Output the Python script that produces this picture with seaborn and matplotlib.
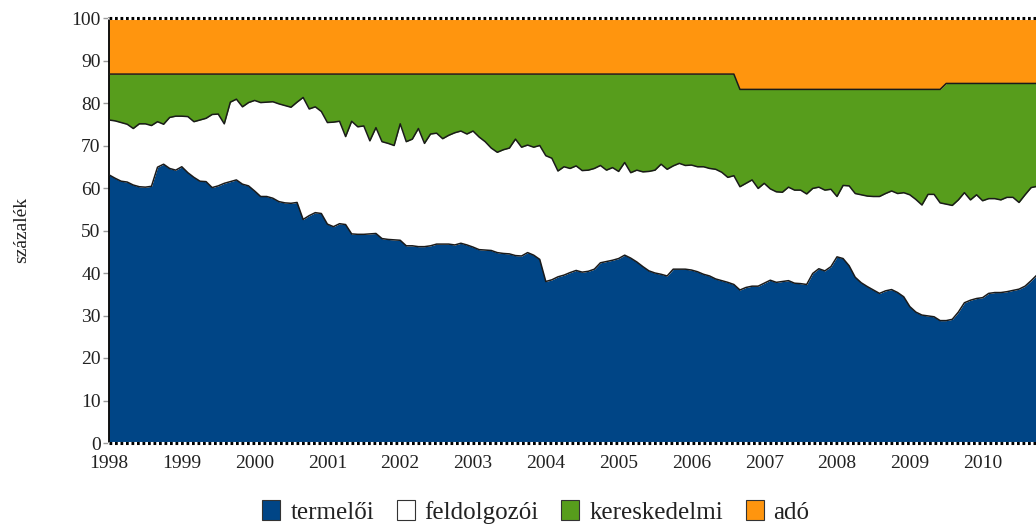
import numpy as np
import pandas as pd
import matplotlib
matplotlib.use("Agg")
import matplotlib.pyplot as plt
import seaborn as sns
from matplotlib.patches import Patch

sns.set_theme(style="white")
plt.rcParams['font.family'] = ['Liberation Serif', 'DejaVu Serif']

# monthly observations, Jan 1998 onwards
ev_kezdet = 1998
ev_cimkek = list(range(1998, 2011))

# top of the "termelői" band (= its share)
termeloi = [
    63.1, 62.3, 61.6, 61.4, 60.7, 60.3, 60.2, 60.4, 64.9, 65.6,
    64.6, 64.2, 65.0, 63.6, 62.5, 61.6, 61.5, 60.1, 60.5, 61.1,
    61.5, 61.9, 60.9, 60.5, 59.3, 58.0, 58.0, 57.6, 56.8, 56.5,
    56.4, 56.6, 52.6, 53.5, 54.2, 54.0, 51.5, 50.9, 51.6, 51.4,
    49.2, 49.1, 49.1, 49.2, 49.3, 48.1, 47.9, 47.8, 47.7, 46.4,
    46.4, 46.2, 46.2, 46.4, 46.8, 46.8, 46.8, 46.6, 47.0, 46.6,
    46.1, 45.5, 45.4, 45.3, 44.8, 44.6, 44.5, 44.1, 44.0, 44.8,
    44.2, 43.2, 38.0, 38.4, 39.1, 39.5, 40.1, 40.6, 40.2, 40.4,
    40.9, 42.4, 42.7, 43.0, 43.4, 44.2, 43.5, 42.6, 41.5, 40.5,
    40.0, 39.7, 39.3, 40.9, 40.9, 40.9, 40.7, 40.3, 39.7, 39.3,
    38.6, 38.2, 37.8, 37.3, 36.0, 36.6, 36.9, 36.9, 37.6, 38.3,
    37.8, 38.0, 38.2, 37.6, 37.5, 37.3, 39.9, 41.0, 40.5, 41.5,
    43.8, 43.4, 41.7, 39.0, 37.7, 36.8, 36.0, 35.2, 35.8, 36.1,
    35.4, 34.4, 32.1, 30.8, 30.1, 29.9, 29.7, 28.8, 28.8, 29.1,
    30.8, 33.0, 33.6, 34.0, 34.2, 35.2, 35.4, 35.4, 35.6, 35.9,
    36.2, 36.9, 38.2, 39.6,
]

# cumulative top of "feldolgozói" band
feldolgozoi_felso = [
    76.0, 75.8, 75.4, 75.0, 74.0, 75.1, 75.1, 74.7, 75.6, 75.0,
    76.6, 76.9, 76.9, 76.8, 75.6, 76.0, 76.4, 77.3, 77.4, 75.1,
    80.2, 80.9, 79.1, 80.1, 80.6, 80.1, 80.2, 80.3, 79.8, 79.4,
    79.0, 80.2, 81.3, 78.6, 79.1, 78.0, 75.4, 75.5, 75.7, 72.1,
    75.7, 74.4, 74.6, 71.1, 74.2, 70.9, 70.5, 70.0, 75.1, 70.9,
    71.5, 74.0, 70.5, 72.7, 72.9, 71.6, 72.4, 73.0, 73.4, 72.7,
    73.4, 72.0, 70.9, 69.4, 68.4, 69.0, 69.4, 71.5, 69.6, 70.1,
    69.6, 70.0, 67.6, 67.0, 64.0, 65.0, 64.6, 65.2, 64.1, 64.2,
    64.6, 65.3, 64.2, 64.8, 63.9, 66.0, 63.6, 64.2, 63.8, 63.9,
    64.2, 65.6, 64.4, 65.2, 65.8, 65.3, 65.4, 65.0, 65.0, 64.6,
    64.4, 63.7, 62.5, 62.9, 60.3, 61.1, 61.9, 59.9, 61.1, 59.8,
    59.1, 59.0, 60.2, 59.5, 59.5, 58.6, 59.9, 60.2, 59.5, 59.7,
    58.0, 60.6, 60.5, 58.7, 58.4, 58.1, 58.0, 58.0, 58.7, 59.3,
    58.7, 58.9, 58.4, 57.3, 56.0, 58.5, 58.5, 56.5, 56.2, 55.9,
    57.2, 58.9, 57.2, 58.4, 57.0, 57.5, 57.5, 57.2, 57.8, 57.8,
    56.6, 58.4, 60.1, 60.4,
]

# cumulative top of "kereskedelmi" band (the rest up to 100 is "adó")
kereskedelmi_felso = [
    86.8, 86.8, 86.8, 86.8, 86.8, 86.8, 86.8, 86.8, 86.8, 86.8,
    86.8, 86.8, 86.8, 86.8, 86.8, 86.8, 86.8, 86.8, 86.8, 86.8,
    86.8, 86.8, 86.8, 86.8, 86.8, 86.8, 86.8, 86.8, 86.8, 86.8,
    86.8, 86.8, 86.8, 86.8, 86.8, 86.8, 86.8, 86.8, 86.8, 86.8,
    86.8, 86.8, 86.8, 86.8, 86.8, 86.8, 86.8, 86.8, 86.8, 86.8,
    86.8, 86.8, 86.8, 86.8, 86.8, 86.8, 86.8, 86.8, 86.8, 86.8,
    86.8, 86.8, 86.8, 86.8, 86.8, 86.8, 86.8, 86.8, 86.8, 86.8,
    86.8, 86.8, 86.8, 86.8, 86.8, 86.8, 86.8, 86.8, 86.8, 86.8,
    86.8, 86.8, 86.8, 86.8, 86.8, 86.8, 86.8, 86.8, 86.8, 86.8,
    86.8, 86.8, 86.8, 86.8, 86.8, 86.8, 86.8, 86.8, 86.8, 86.8,
    86.8, 86.8, 86.8, 86.8, 83.2, 83.2, 83.2, 83.2, 83.2, 83.2,
    83.2, 83.2, 83.2, 83.2, 83.2, 83.2, 83.2, 83.2, 83.2, 83.2,
    83.2, 83.2, 83.2, 83.2, 83.2, 83.2, 83.2, 83.2, 83.2, 83.2,
    83.2, 83.2, 83.2, 83.2, 83.2, 83.2, 83.2, 83.2, 84.6, 84.6,
    84.6, 84.6, 84.6, 84.6, 84.6, 84.6, 84.6, 84.6, 84.6, 84.6,
    84.6, 84.6, 84.6, 84.6,
]

sorozat_nevek = ["termelői", "feldolgozói", "kereskedelmi", "adó"]
szinek = ["#004586", "#ffffff", "#579d1c", "#ff950e"]

n = len(termeloi)
df = pd.DataFrame({
    "ido": ev_kezdet + np.arange(n) / 12.0,
    "termeloi": termeloi,
    "feldolgozoi": feldolgozoi_felso,
    "kereskedelmi": kereskedelmi_felso,
})
df["ado"] = 100.0

fig = plt.figure(figsize=(10.36, 5.26), dpi=100)
ax = fig.add_axes([109 / 1036, 83 / 526, 927 / 1036, 425 / 526])

also = np.zeros(n)
hatarok = ["termeloi", "feldolgozoi", "kereskedelmi", "ado"]
for col, c in zip(hatarok, szinek):
    ax.fill_between(df["ido"], also, df[col], color=c, lw=0, zorder=1)
    also = df[col].values

for col in ["termeloi", "feldolgozoi", "kereskedelmi"]:
    sns.lineplot(data=df, x="ido", y=col, ax=ax, color="#1a1a1a", lw=1.1,
                 legend=False, zorder=3)

ax.set_xlim(ev_kezdet, ev_kezdet + 152.8 / 12)
ax.set_ylim(0, 100)
ax.set_xlabel("")
ax.set_ylabel("")
ax.set_yticks(range(0, 101, 10))
ax.set_xticks(ev_cimkek)
ax.set_xticklabels([str(e) for e in ev_cimkek])
ax.tick_params(axis="y", left=True, length=4, width=1, color="#9a9a9a",
               labelsize=14, labelcolor="#222222", pad=2)
ax.tick_params(axis="x", bottom=False, length=0, labelsize=14,
               labelcolor="#222222", pad=8.5)

for s in ["top", "right", "bottom"]:
    ax.spines[s].set_visible(False)
ax.spines["left"].set_color("black")
ax.spines["left"].set_linewidth(1.3)

for yv in (0, 100):
    ax.axhline(yv, color="white", lw=2.2, zorder=5, clip_on=False)
    ax.axhline(yv, color="black", lw=2.2, ls=(0, (0.9, 0.9)), zorder=6,
               clip_on=False)

fig.text(22 / 1036, 1 - 230 / 526, "százalék", rotation=90, ha="center",
         va="center", fontsize=14, color="#222222")

handles = [Patch(facecolor=c, edgecolor="#333333", lw=0.8) for c in szinek]
fig.legend(handles, sorozat_nevek, loc="center",
           bbox_to_anchor=(536 / 1036, 1 - 512 / 526), ncol=4, frameon=False,
           fontsize=18, handlelength=0.72, handleheight=0.8,
           handletextpad=0.4, columnspacing=0.9, labelcolor="#222222",
           borderpad=0.1)

fig.savefig("out.png", dpi=100)
